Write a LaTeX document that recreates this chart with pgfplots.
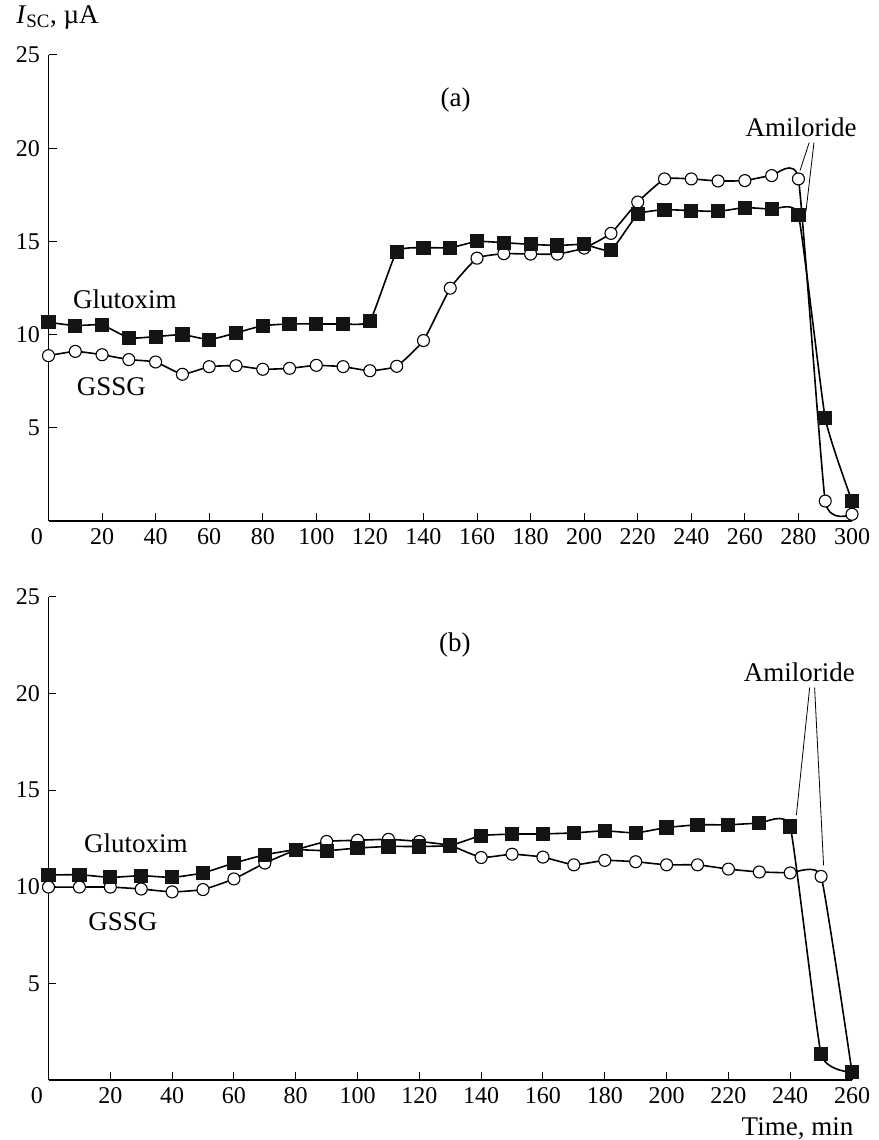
\documentclass[border=0pt]{standalone}
\usepackage{fontspec}
\setmainfont{Liberation Serif}
\usepackage{pgfplots}
\pgfplotsset{compat=1.18}

\pgfplotsset{
  panel/.style={
    scale only axis, width=803.5pt,
    axis lines=left, axis line style={-, line width=1.1pt},
    tick align=inside, major tick length=8pt,
    tick style={black, line width=1pt},
    ymin=0, ymax=25, ytick={5,10,15,20,25},
    ticklabel style={font=\fontsize{24}{28}\selectfont},
    yticklabel style={xshift=-5pt},
    xticklabel style={yshift=-4pt},
    /pgf/number format/assume math mode=true,
    extra x ticks={0},
    extra x tick style={major tick length=0pt, xticklabel style={xshift=-11.5pt}},
    clip=false,
  },
  curve/.style={black, line width=1.6pt, smooth, tension=0.25},
  glut/.style={curve, mark=square*, mark size=6.3pt, mark options={fill=black!92, draw=black!92}},
  gssg/.style={curve, mark=*, mark size=6pt, mark options={fill=white, draw=black, line width=1.1pt}},
}
\tikzset{ann/.style={black, line width=0.8pt}}

\begin{document}
\begin{tikzpicture}[font=\fontsize{27}{31}\selectfont]
\path[use as bounding box] (0,0) rectangle (878pt,1140pt);

% panel (a)
\begin{axis}[panel, at={(48.5pt,619pt)}, anchor=south west, height=466pt,
  xmin=0, xmax=300, xtick={20,40,...,300}]
\addplot[gssg] coordinates {
  (0,8.87) (10,9.10) (20,8.92) (30,8.66) (40,8.53) (50,7.87) (60,8.28)
  (70,8.33) (80,8.14) (90,8.19) (100,8.35) (110,8.28) (120,8.06) (130,8.30)
  (140,9.68) (150,12.49) (160,14.10) (170,14.34) (180,14.32) (190,14.32)
  (200,14.64) (210,15.43) (220,17.11) (230,18.35) (240,18.35) (250,18.24)
  (260,18.26) (270,18.53) (280,18.35) (290,1.07) (300,0.36)};
\addplot[glut] coordinates {
  (0,10.66) (10,10.48) (20,10.52) (30,9.82) (40,9.89) (50,10.00) (60,9.73)
  (70,10.09) (80,10.48) (90,10.57) (100,10.57) (110,10.57) (120,10.72)
  (130,14.45) (140,14.66) (150,14.66) (160,15.00) (170,14.93) (180,14.84)
  (190,14.78) (200,14.84) (210,14.52) (220,16.45) (230,16.70) (240,16.65)
  (250,16.61) (260,16.81) (270,16.72) (280,16.42) (290,5.52) (300,1.07)};
\draw[ann] (axis cs:284,20.3) -- (axis cs:280.6,18.8);
\draw[ann] (axis cs:285.8,20.3) -- (axis cs:282.8,16.6);
\node at (axis cs:281,21.1) {Amiloride};
\node at (axis cs:152,22.6) {(a)};
\node at (axis cs:28.5,11.9) {Glutoxim};
\node at (axis cs:23.5,7.2) {GSSG};
\node[anchor=west] at (axis cs:-13.3,27.0) {\textit{I}\textsubscript{SC}, µA};
\end{axis}

% panel (b)
\begin{axis}[panel, at={(48.5pt,60pt)}, anchor=south west, height=483.3pt,
  xmin=0, xmax=260, xtick={20,40,...,260}]
\addplot[gssg] coordinates {
  (0,9.98) (10,9.98) (20,9.98) (30,9.88) (40,9.73) (50,9.85) (60,10.40)
  (70,11.22) (80,11.90) (90,12.34) (100,12.40) (110,12.45) (120,12.34)
  (130,12.13) (140,11.51) (150,11.68) (160,11.53) (170,11.13) (180,11.36)
  (190,11.29) (200,11.13) (210,11.13) (220,10.91) (230,10.76) (240,10.71)
  (250,10.53) (260,0.40)};
\addplot[glut] coordinates {
  (0,10.60) (10,10.62) (20,10.48) (30,10.57) (40,10.48) (50,10.71) (60,11.22)
  (70,11.65) (80,11.91) (90,11.86) (100,12.00) (110,12.08) (120,12.08)
  (130,12.13) (140,12.64) (150,12.72) (160,12.73) (170,12.78) (180,12.89)
  (190,12.78) (200,13.06) (210,13.20) (220,13.20) (230,13.28) (240,13.11)
  (250,1.34) (260,0.40)};
\draw[ann] (axis cs:246.3,20.3) -- (axis cs:242,13.7);
\draw[ann] (axis cs:247.9,20.3) -- (axis cs:250.8,11.1);
\node at (axis cs:243,21.1) {Amiloride};
\node at (axis cs:131.5,22.5) {(b)};
\node at (axis cs:28.3,12.26) {Glutoxim};
\node at (axis cs:24.1,8.2) {GSSG};
\node[anchor=east, inner sep=1pt] at (axis cs:260.8,-2.5) {Time, min};
\end{axis}
\end{tikzpicture}
\end{document}
